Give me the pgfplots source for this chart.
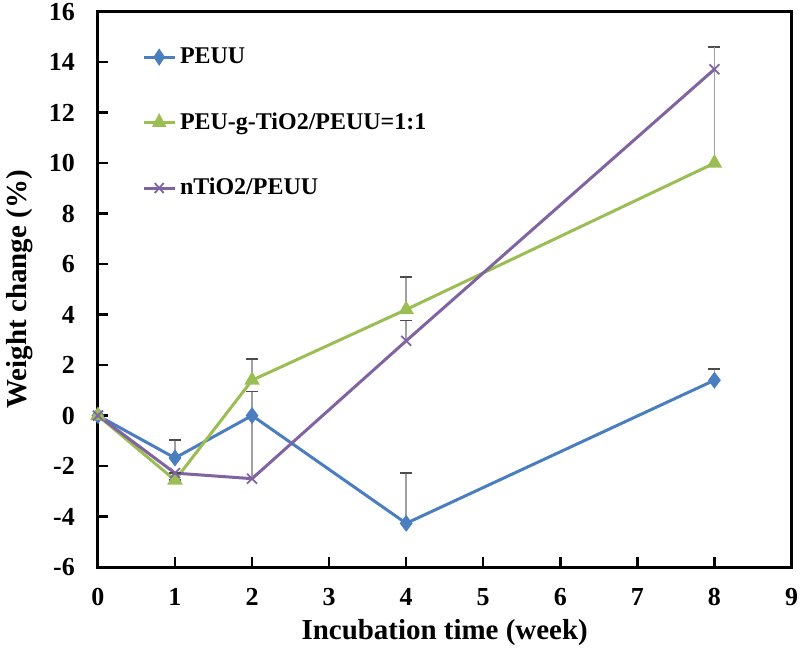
\documentclass[border=0pt]{standalone}
\usepackage{pgfplots}
\pgfplotsset{compat=1.18}
\usepackage{fontspec}
\setmainfont{Liberation Serif}

\definecolor{peuu}{RGB}{74,126,193}
\definecolor{peug}{RGB}{155,190,84}
\definecolor{ntio}{RGB}{128,100,162}
\definecolor{errgrey}{RGB}{160,160,160}

\begin{document}
\begin{tikzpicture}
\begin{axis}[
    scale only axis,
    width=346bp, height=277bp,
    xmin=0, xmax=9, ymin=-6, ymax=16,
    xtick={0,1,...,9}, ytick={-6,-4,...,16},
    tick align=inside,
    xtick pos=bottom, ytick pos=left,
    major tick length=5bp,
    axis line style={line width=1.5bp},
    major tick style={line width=1.2bp, black},
    /pgf/number format/assume math mode=true,
    ticklabel style={font=\bfseries\fontsize{13}{15}\selectfont},
    yticklabel style={xshift=-8bp, inner ysep=1.5bp},
    xticklabel style={yshift=-7bp, inner xsep=1bp},
    xlabel={Incubation time (week)},
    ylabel={Weight change (\%)},
    label style={font=\bfseries\fontsize{14.5}{16}\selectfont},
    xlabel style={yshift=0bp},
    ylabel style={yshift=1bp},
    legend style={at={(rel axis cs:0.0635,0.943)}, anchor=north west, draw=none,
        fill=none, font=\bfseries\fontsize{12}{14}\selectfont,
        row sep=19bp, inner sep=0pt},
    legend cell align=left,
    legend image post style={xscale=0.9},
    every axis plot/.append style={line width=1.5bp},
    error bars/error bar style={errgrey, line width=0.8bp},
    error bars/error mark options={rotate=90, mark size=3bp, line width=0.8bp, color=black!70},
]
\addplot[color=peuu, mark=diamond*, mark size=3bp,
    error bars/.cd, y dir=plus, y explicit]
coordinates {
    (0,0) +- (0,0)
    (1,-1.68) +- (0,0.72)
    (2,0) +- (0,0.96)
    (4,-4.27) +- (0,2.0)
    (8,1.4) +- (0,0.45)
};
\addplot[color=peug, mark=triangle*, mark size=3bp,
    error bars/.cd, y dir=plus, y explicit]
coordinates {
    (0,0) +- (0,0)
    (1,-2.56) +- (0,0)
    (2,1.4) +- (0,0.85)
    (4,4.2) +- (0,1.28)
    (8,10) +- (0,4.6)
};
\addplot[color=ntio, mark=x, mark size=3.5bp, mark options={line width=0.9bp},
    error bars/.cd, y dir=plus, y explicit]
coordinates {
    (0,0) +- (0,0)
    (1,-2.28) +- (0,0)
    (2,-2.5) +- (0,3.45)
    (4,2.96) +- (0,0.8)
    (8,13.72) +- (0,0.9)
};
\legend{PEUU, PEU-g-TiO2/PEUU=1:1, nTiO2/PEUU}
\end{axis}
\end{tikzpicture}
\end{document}
